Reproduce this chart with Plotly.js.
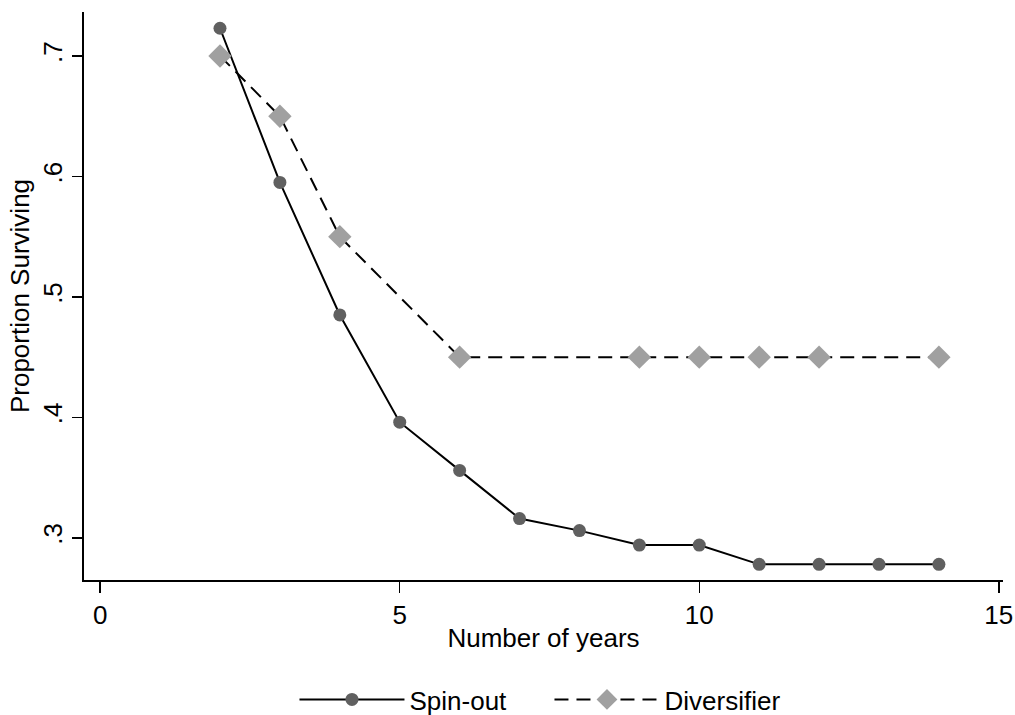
<!DOCTYPE html>
<html>
<head>
<meta charset="utf-8">
<script src="https://cdn.plot.ly/plotly-3.0.1.min.js"></script>
<style>html,body{margin:0;padding:0;background:#fff;}#chart{width:1015px;height:715px;}</style>
</head>
<body>
<div id="chart"></div>
<script>
const spinYears = [2, 3, 4, 5, 6, 7, 8, 9, 10, 11, 12, 13, 14];
const spinValues = [0.723, 0.595, 0.485, 0.396, 0.356, 0.316, 0.306, 0.294, 0.294, 0.278, 0.278, 0.278, 0.278];
const divYears = [2, 3, 4, 6, 9, 10, 11, 12, 14];
const divValues = [0.70, 0.65, 0.55, 0.45, 0.45, 0.45, 0.45, 0.45, 0.45];
const xTickVals = [0, 5, 10, 15];
const yTickVals = [0.3, 0.4, 0.5, 0.6, 0.7];
const yTickText = ['.3', '.4', '.5', '.6', '.7'];

const font = 'Liberation Sans, Arial, sans-serif';
const traces = [
  {
    x: spinYears, y: spinValues, name: 'Spin-out', type: 'scatter', mode: 'lines+markers',
    line: {color: '#000000', width: 2},
    marker: {symbol: 'circle', size: 13, color: '#606060'}
  },
  {
    x: divYears, y: divValues, name: 'Diversifier', type: 'scatter', mode: 'lines+markers',
    line: {color: '#000000', width: 2, dash: '14px,8px'},
    marker: {symbol: 'diamond', size: 18, color: '#a0a0a0'}
  }
];
const layout = {
  width: 1015, height: 715,
  margin: {l: 84, r: 12, t: 12, b: 135, autoexpand: false},
  paper_bgcolor: '#ffffff', plot_bgcolor: '#ffffff',
  font: {family: font, color: '#000000', size: 26},
  showlegend: true,
  legend: {orientation: 'h', x: 0.5065, xanchor: 'center', y: -0.169, yanchor: 'top',
    font: {family: font, size: 26}, itemwidth: 105, entrywidth: 135, traceorder: 'normal'},
  xaxis: {
    range: [-0.27, 15.07], tickvals: xTickVals, ticks: 'outside', ticklen: 11, tickwidth: 1.5,
    tickcolor: '#000', showline: true, linecolor: '#000', linewidth: 2, showgrid: false, zeroline: false,
    tickfont: {family: font, size: 26}, automargin: false,
    title: {text: 'Number of years', font: {family: font, size: 26}, standoff: 0}
  },
  yaxis: {
    range: [0.265, 0.7365], tickvals: yTickVals, ticktext: yTickText, tickangle: -90,
    ticks: 'outside', ticklen: 10, tickwidth: 1.5, tickcolor: '#000', showline: true, linecolor: '#000', linewidth: 2,
    showgrid: false, zeroline: false, tickfont: {family: font, size: 26}, automargin: false,
    title: {text: 'Proportion Surviving', font: {family: font, size: 26}, standoff: 0}
  }
};
Plotly.newPlot('chart', traces, layout, {displayModeBar: false, staticPlot: true});
</script>
</body>
</html>
